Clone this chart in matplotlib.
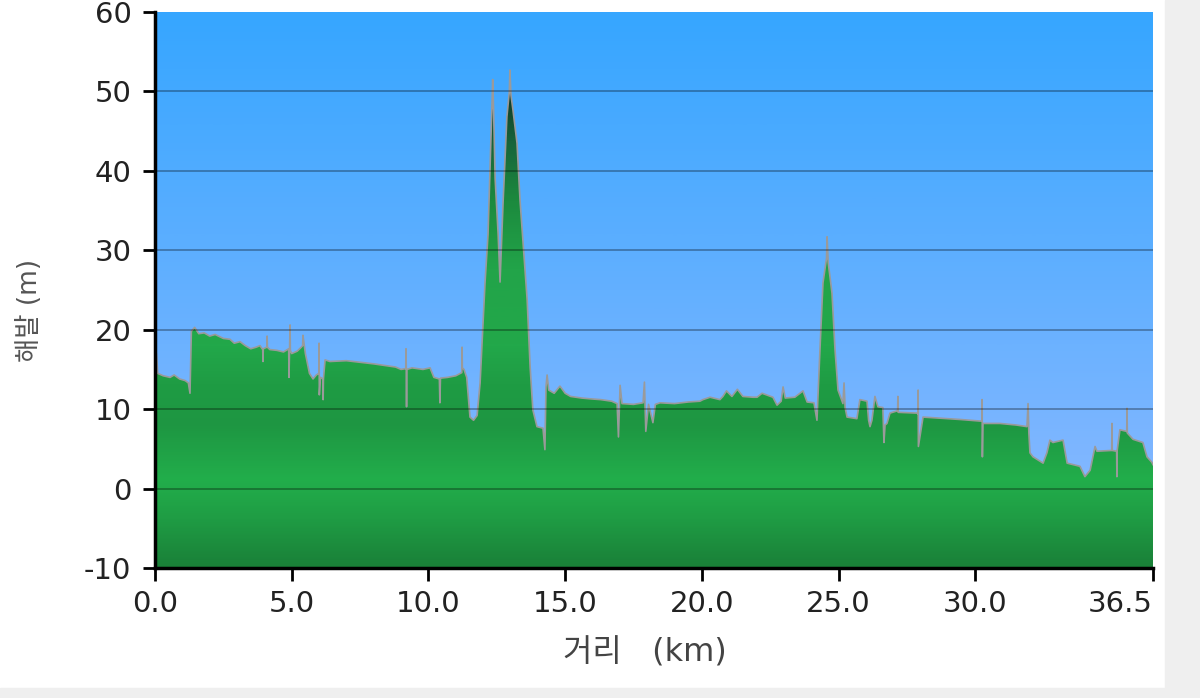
import numpy as np
import matplotlib.pyplot as plt
from matplotlib.colors import LinearSegmentedColormap
from matplotlib.patches import Polygon, Rectangle

plt.rcParams['font.family'] = ['DejaVu Sans', 'Noto Sans CJK KR']
plt.rcParams['axes.unicode_minus'] = False

# elevation profile (distance km, elevation m)
km = [0.00, 0.05, 0.10, 0.30, 0.55, 0.70, 0.90, 1.10, 1.22, 1.28, 1.33, 1.45, 1.60,
      1.80, 2.00, 2.20, 2.50, 2.74, 2.90, 3.11, 3.30, 3.50, 3.70, 3.84, 3.94, 3.95,
      3.96, 4.09, 4.10, 4.11, 4.20, 4.46, 4.70, 4.89, 4.90, 4.94, 4.95, 5.00, 5.20,
      5.35, 5.40, 5.41, 5.50, 5.65, 5.78, 5.90, 5.99, 6.00, 6.01, 6.05, 6.14, 6.15,
      6.16, 6.22, 6.40, 7.00, 7.50, 8.00, 8.40, 8.80, 9.00, 9.17, 9.18, 9.19, 9.20,
      9.21, 9.40, 9.80, 10.06, 10.20, 10.40, 10.42, 10.44, 10.70, 11.00, 11.16, 11.22,
      11.23, 11.24, 11.30, 11.40, 11.52, 11.65, 11.78, 11.89, 12.07, 12.18, 12.27,
      12.33, 12.35, 12.38, 12.44, 12.55, 12.62, 12.73, 12.87, 12.96, 12.98, 13.02,
      13.09, 13.24, 13.35, 13.46, 13.61, 13.72, 13.82, 13.97, 14.19, 14.26, 14.30,
      14.34, 14.40, 14.60, 14.81, 15.00, 15.20, 15.60, 15.91, 16.30, 16.70, 16.90,
      16.95, 17.01, 17.08, 17.50, 17.85, 17.90, 17.95, 18.05, 18.21, 18.30, 18.47,
      19.00, 19.50, 19.93, 20.04, 20.30, 20.66, 20.77, 20.90, 21.10, 21.30, 21.50,
      21.87, 22.02, 22.20, 22.60, 22.75, 22.90, 22.97, 23.05, 23.40, 23.70, 23.85,
      24.10, 24.21, 24.32, 24.43, 24.56, 24.58, 24.62, 24.76, 24.87, 24.98, 25.16,
      25.20, 25.24, 25.31, 25.67, 25.78, 26.04, 26.10, 26.15, 26.22, 26.33, 26.44,
      26.62, 26.66, 26.70, 26.77, 26.88, 27.16, 27.17, 27.18, 27.87, 27.90, 27.91,
      27.92, 28.09, 29.00, 29.44, 30.17, 30.24, 30.25, 30.26, 30.28, 30.90, 31.50,
      31.89, 31.93, 31.96, 32.00, 32.11, 32.48, 32.62, 32.73, 32.84, 33.21, 33.36,
      33.83, 34.01, 34.20, 34.38, 34.45, 34.99, 35.00, 35.01, 35.17, 35.18, 35.19,
      35.29, 35.54, 35.55, 35.56, 35.77, 36.13, 36.28, 36.46, 36.50]
elev = [17.5, 17.0, 14.5, 14.2, 14.0, 14.3, 13.8, 13.6, 13.3, 12.0, 19.8, 20.3, 19.5,
        19.6, 19.2, 19.4, 18.9, 18.8, 18.3, 18.5, 18.0, 17.6, 17.8, 18.0, 17.5, 16.0,
        17.6, 17.8, 19.2, 17.8, 17.5, 17.4, 17.2, 17.6, 14.0, 20.6, 17.4, 17.0, 17.3,
        17.8, 18.0, 19.3, 17.0, 14.5, 13.8, 14.3, 14.5, 18.3, 11.8, 14.0, 13.8, 11.2,
        13.8, 16.2, 16.0, 16.1, 15.9, 15.7, 15.5, 15.3, 15.0, 15.1, 17.6, 15.1, 10.3,
        15.0, 15.2, 15.0, 15.2, 14.0, 13.8, 10.8, 13.9, 14.0, 14.2, 14.5, 14.6,
        17.8, 15.2, 15.0, 14.0, 9.0, 8.6, 9.2, 13.3, 25.9, 32.0, 42.0,
        49.0, 51.5, 48.0, 39.0, 32.0, 26.0, 36.0, 46.8, 50.0, 52.7, 49.5,
        47.7, 43.5, 36.3, 31.0, 23.8, 15.3, 9.9, 7.8, 7.6, 4.9, 12.8,
        14.3, 12.4, 12.0, 12.9, 12.0, 11.6, 11.4, 11.3, 11.2, 11.0, 10.7,
        6.5, 13.0, 10.7, 10.6, 10.8, 13.4, 7.2, 10.6, 8.3, 10.6, 10.8,
        10.7, 10.9, 11.0, 11.2, 11.5, 11.2, 11.6, 12.3, 11.6, 12.5, 11.6,
        11.5, 11.5, 12.0, 11.5, 10.5, 11.0, 12.8, 11.4, 11.5, 12.3, 10.9,
        10.8, 8.6, 17.5, 25.9, 29.0, 31.7, 28.5, 24.6, 17.5, 12.4, 10.7,
        13.3, 10.2, 9.0, 8.8, 11.2, 11.0, 8.6, 7.8, 8.6, 11.6, 10.3,
        10.2, 5.8, 8.0, 8.2, 9.5, 9.8, 11.6, 9.6, 9.5, 9.4, 12.4,
        5.3, 9.0, 8.8, 8.7, 8.5, 8.5, 11.2, 4.0, 8.2, 8.2, 8.0,
        7.8, 10.7, 7.0, 4.5, 4.0, 3.2, 4.5, 6.1, 5.8, 6.1, 3.2,
        2.8, 1.5, 2.3, 5.3, 4.7, 4.8, 8.2, 4.8, 4.7, 1.5, 4.8,
        7.4, 7.2, 10.1, 7.0, 6.2, 5.8, 4.0, 3.3, 3.0]

x_ticks = [0, 5, 10, 15, 20, 25, 30, 36.5]
x_labels = ['0.0', '5.0', '10.0', '15.0', '20.0', '25.0', '30.0', '36.5']
y_ticks = [-10, 0, 10, 20, 30, 40, 50, 60]

fig = plt.figure(figsize=(12, 6.98), dpi=100)
ax = fig.add_axes([155/1200, 130/698, 998/1200, 556/698])

# frame strips like the screenshot
fig.patches.append(Rectangle((1165/1200, 0), 35/1200, 1, transform=fig.transFigure,
                             color='#efefef', zorder=-1))
fig.patches.append(Rectangle((0, 0), 1, 10/698, transform=fig.transFigure,
                             color='#efefef', zorder=-1))

xmin, xmax, ymin, ymax = 0, 36.5, -10, 60
grad = np.linspace(0, 1, 600).reshape(-1, 1)

sky = LinearSegmentedColormap.from_list('sky', ['#90baff', '#36a6ff'])
ax.imshow(grad, cmap=sky, origin='lower', aspect='auto',
          extent=[xmin, xmax, ymin, ymax], zorder=0)

green = LinearSegmentedColormap.from_list('grn', [
    (0.0, '#1a8038'), (0.086, '#1f9c44'), (0.157, '#22ae4b'), (0.257, '#1e9642'),
    (0.33, '#1f9c44'), (0.40, '#22a84a'), (0.54, '#22a449'), (0.66, '#1c8a3e'),
    (0.77, '#17633a'), (0.886, '#0d2a20'), (1.0, '#0a1f18')])
img = ax.imshow(grad, cmap=green, origin='lower', aspect='auto',
                extent=[xmin, xmax, ymin, ymax], zorder=1)
verts = [(km[0], ymin)] + list(zip(km, elev)) + [(km[-1], ymin)]
poly = Polygon(verts, closed=True, facecolor='none', edgecolor='none')
ax.add_patch(poly)
img.set_clip_path(poly)

ax.plot(km, elev, color='#9a9a9a', lw=1.2, zorder=2)

ax.set_xlim(xmin, xmax)
ax.set_ylim(ymin, ymax)
ax.set_xticks(x_ticks)
ax.set_xticklabels(x_labels)
ax.set_yticks(y_ticks)

ax.set_axisbelow(False)
ax.yaxis.grid(True, color='black', alpha=0.3, lw=1.4)
ax.xaxis.grid(False)
gl = ax.yaxis.get_gridlines()
gl[0].set_visible(False)
gl[-1].set_visible(False)

for s in ['top', 'right']:
    ax.spines[s].set_visible(False)
for s in ['left', 'bottom']:
    ax.spines[s].set_linewidth(2.5)
    ax.spines[s].set_zorder(5)

ax.tick_params(axis='both', direction='out', length=9, width=2, color='black',
               labelsize=21, labelcolor='#222222')
ax.tick_params(axis='y', pad=8)
ax.tick_params(axis='x', pad=7)
ax.get_xticklabels()[-1].set_ha('right')

ax.set_xlabel('거리   (km)', fontsize=23, color='#444444')
ax.xaxis.set_label_coords(0.491, -0.125)
ax.set_ylabel('해발 (m)', fontsize=19, color='#555555')
ax.yaxis.set_label_coords(-0.112, 0.464)

fig.savefig('out.png', dpi=100)
